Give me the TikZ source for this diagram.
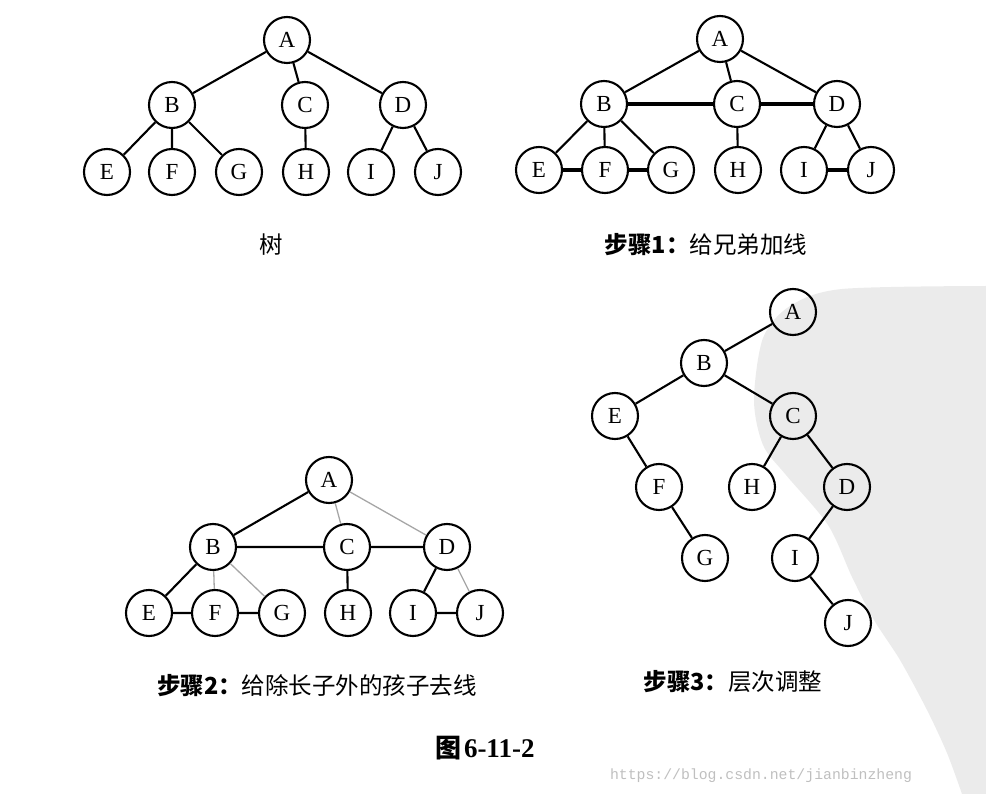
\documentclass[tikz,border=0pt]{standalone}
\usepackage{fontspec}
\setmainfont{Liberation Serif}
\newfontfamily\cjk{Noto Sans CJK SC}
\newfontfamily\urlfont{Liberation Mono}

\tikzset{vtx/.style={circle, draw, line width=2.1pt, minimum size=46pt, inner sep=0pt, font=\fontsize{23}{23}\selectfont},
  edge/.style={line width=2.1pt},
  sib/.style={line width=4pt},
  gone/.style={line width=1.3pt, black!35},
  steplbl/.style={font=\cjk\fontsize{23.5}{24}\selectfont}}

\begin{document}
\begin{tikzpicture}[x=1pt, y=-1pt]
  \useasboundingbox (0,0) rectangle (986,794);
  \fill[black!8] plot[smooth] coordinates {(986,286) (842,289) (790,306) (763,338) (754,400) (763,445) (786,475) (828,525)
    (852,577) (874,620) (900,660) (927,710) (947,753) (962,794)} -- (986,794) -- cycle;

  \node[vtx] (a1) at (287,40) {A};  \node[vtx] (b1) at (172,105) {B};  \node[vtx] (c1) at (305,105) {C};  \node[vtx] (d1) at (403,105) {D};
  \node[vtx] (e1) at (107,172) {E}; \node[vtx] (f1) at (172,172) {F}; \node[vtx] (g1) at (239,172) {G}; \node[vtx] (h1) at (306,172) {H};
  \node[vtx] (i1) at (371,172) {I}; \node[vtx] (j1) at (438,172) {J};
  \draw[edge] (a1) -- (b1) (a1) -- (c1) (a1) -- (d1) (b1) -- (e1) (b1) -- (f1) (b1) -- (g1) (c1) -- (h1) (d1) -- (i1) (d1) -- (j1);
  \node[steplbl] (t1) at (271,245) {树};

  \node[vtx] (a2) at (720,39) {A};  \node[vtx] (b2) at (604,104) {B};  \node[vtx] (c2) at (737,104) {C};  \node[vtx] (d2) at (837,104) {D};
  \node[vtx] (e2) at (539,170) {E}; \node[vtx] (f2) at (605,170) {F}; \node[vtx] (g2) at (671,170) {G}; \node[vtx] (h2) at (738,170) {H};
  \node[vtx] (i2) at (804,170) {I}; \node[vtx] (j2) at (871,170) {J};
  \draw[edge] (a2) -- (b2) (a2) -- (c2) (a2) -- (d2) (b2) -- (e2) (b2) -- (f2) (b2) -- (g2) (c2) -- (h2) (d2) -- (i2) (d2) -- (j2);
  \draw[sib] (b2) -- (c2) (c2) -- (d2) (e2) -- (f2) (f2) -- (g2) (i2) -- (j2);
  \node[steplbl] (t2) at (706,245) {{\bfseries 步骤1：}给兄弟加线};

  \node[vtx] (a3) at (329,480) {A}; \node[vtx] (b3) at (213,547) {B}; \node[vtx] (c3) at (347,547) {C}; \node[vtx] (d3) at (447,547) {D};
  \node[vtx] (e3) at (149,613) {E}; \node[vtx] (f3) at (215,613) {F}; \node[vtx] (g3) at (282,613) {G}; \node[vtx] (h3) at (348,613) {H};
  \node[vtx] (i3) at (413,613) {I}; \node[vtx] (j3) at (480,613) {J};
  \draw[gone] (a3) -- (c3) (a3) -- (d3) (b3) -- (f3) (b3) -- (g3) (d3) -- (j3);
  \draw[edge] (a3) -- (b3) (b3) -- (e3) (c3) -- (h3) (d3) -- (i3) (b3) -- (c3) (c3) -- (d3) (e3) -- (f3) (f3) -- (g3) (i3) -- (j3);
  \node[steplbl] (t3) at (317,686) {{\bfseries 步骤2：}给除长子外的孩子去线};

  \node[vtx] (a4) at (793,312) {A}; \node[vtx] (b4) at (704,363) {B}; \node[vtx] (e4) at (615,416) {E}; \node[vtx] (c4) at (793,416) {C};
  \node[vtx] (f4) at (659,487) {F}; \node[vtx] (h4) at (752,487) {H}; \node[vtx] (d4) at (847,487) {D}; \node[vtx] (g4) at (705,558) {G};
  \node[vtx] (i4) at (795,558) {I}; \node[vtx] (j4) at (848,623) {J};
  \draw[edge] (a4) -- (b4) (b4) -- (e4) (b4) -- (c4) (e4) -- (f4) (f4) -- (g4) (c4) -- (h4) (c4) -- (d4) (d4) -- (i4) (i4) -- (j4);
  \node[steplbl] (t4) at (733,682) {{\bfseries 步骤3：}层次调整};

  \node (fig) at (485,748) {{\cjk\bfseries\fontsize{26}{26}\selectfont 图} \bfseries\fontsize{27}{27}\selectfont 6-11-2};
  \node[text=black!25, font=\urlfont\fontsize{14.8}{15}\selectfont] (url) at (761,776) {https://blog.csdn.net/jianbinzheng};
\end{tikzpicture}
\end{document}
